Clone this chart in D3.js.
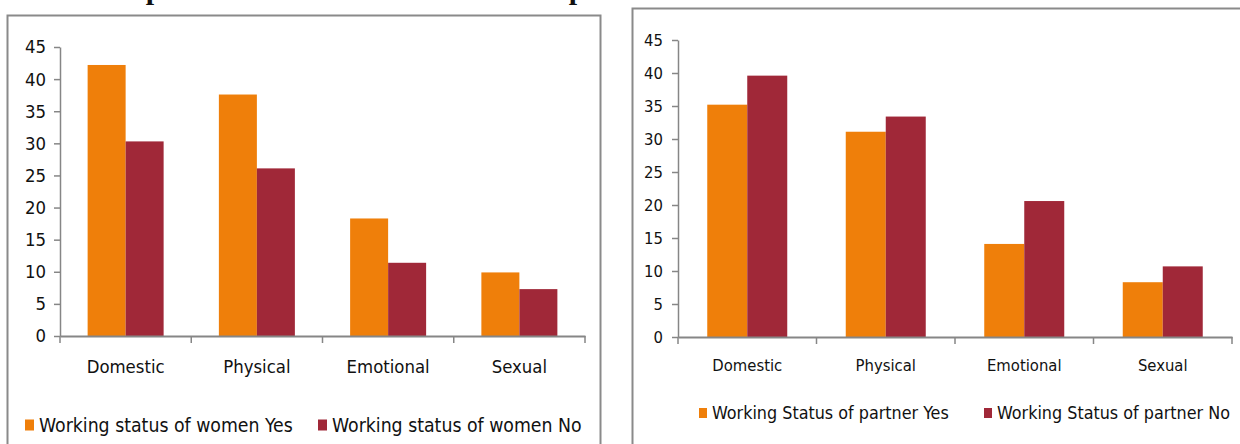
<!DOCTYPE html>
<html><head><meta charset="utf-8">
<script src="https://cdn.jsdelivr.net/npm/d3@7"></script>
<style>
html,body{margin:0;padding:0;background:#fff;}
svg{display:block;}
text{font-family:"DejaVu Sans Condensed","DejaVu Sans",sans-serif;fill:#111;}
</style></head>
<body>
<svg id="c" width="1240" height="444"></svg>
<script>
const categories = ["Domestic", "Physical", "Emotional", "Sexual"];
const womenYes = [42.2, 37.6, 18.3, 9.9];
const womenNo = [30.3, 26.1, 11.4, 7.3];
const partnerYes = [35.2, 31.1, 14.1, 8.3];
const partnerNo = [39.6, 33.4, 20.6, 10.7];
const yTicks = [0, 5, 10, 15, 20, 25, 30, 35, 40, 45];
const seriesLeft = ["Working status of women Yes", "Working status of women No"];
const seriesRight = ["Working Status of partner Yes", "Working Status of partner No"];
const colors = ["#EF7F0A", "#A02838"];

const svg = d3.select("#c");
const FONT = "'DejaVu Sans Condensed','DejaVu Sans',sans-serif";

// cut-off title descenders at top (title lies above the visible area, as in the reference)
svg.append("text").attr("x", 154).attr("y", -1).attr("text-anchor", "middle")
  .style("font-family", "'Liberation Serif',serif").style("font-weight", "bold").style("font-size", "30px").text("p");
svg.append("text").attr("x", 577).attr("y", -1).attr("text-anchor", "middle")
  .style("font-family", "'Liberation Serif',serif").style("font-weight", "bold").style("font-size", "30px").text("p");

// outer boxes
svg.append("rect").attr("x", 7.5).attr("y", 15.5).attr("width", 593).attr("height", 440)
  .attr("fill", "none").attr("stroke", "#8a8a8a").attr("stroke-width", 2);
svg.append("rect").attr("x", 632.5).attr("y", 8.5).attr("width", 620).attr("height", 450)
  .attr("fill", "none").attr("stroke", "#8a8a8a").attr("stroke-width", 2);

function drawChart(cfg) {
  const g = svg.append("g");
  const y = d3.scaleLinear().domain([0, 45]).range([cfg.y0, cfg.y45]);
  const x = d3.scaleBand().domain(categories).range([cfg.xl, cfg.xr]).padding(0);
  const inner = d3.scaleBand().domain([0, 1]).range([0, 2 * cfg.bw]).padding(0);
  const off = (x.bandwidth() - 2 * cfg.bw) / 2;

  [cfg.a, cfg.b].forEach((vals, si) => {
    g.append("g").selectAll("rect").data(vals).join("rect")
      .attr("x", (d, i) => x(categories[i]) + off + inner(si))
      .attr("y", d => y(d))
      .attr("width", inner.bandwidth())
      .attr("height", d => y(0) - y(d))
      .attr("fill", colors[si]);
  });

  // y axis
  const ya = g.append("g").attr("transform", `translate(${cfg.xl},0)`)
    .call(d3.axisLeft(y).tickValues(yTicks).tickSize(6).tickPadding(cfg.tp).tickSizeOuter(0));
  ya.select(".domain").attr("stroke", "#868686").attr("stroke-width", 1.5);
  ya.selectAll(".tick line").attr("stroke", "#868686").attr("stroke-width", 1.5);
  ya.selectAll(".tick text").style("font-size", cfg.fs + "px").attr("fill", "#111")
    .style("font-family", FONT);

  // x axis
  const xa = g.append("g").attr("transform", `translate(0,${cfg.y0})`)
    .call(d3.axisBottom(x).tickSize(0).tickPadding(cfg.xp));
  xa.select(".domain").attr("stroke", "#868686").attr("stroke-width", 2);
  xa.selectAll(".tick text").style("font-size", cfg.fs + "px").attr("fill", "#111")
    .style("font-family", FONT);
  const bounds = categories.map(c => x(c)).concat([cfg.xr]);
  g.append("g").selectAll("line").data(bounds).join("line")
    .attr("x1", d => d).attr("x2", d => d)
    .attr("y1", cfg.y0).attr("y2", cfg.y0 + 7)
    .attr("stroke", "#868686").attr("stroke-width", 1.5);

  // legend
  const lg = g.append("g");
  cfg.names.forEach((n, i) => {
    lg.append("rect").attr("x", cfg.lx[i]).attr("y", cfg.ly - cfg.sq / 2 - 1)
      .attr("width", cfg.sq).attr("height", cfg.sq + 2).attr("fill", colors[i]);
    lg.append("text").attr("x", cfg.lx[i] + cfg.sq + 5).attr("y", cfg.ly)
      .attr("dy", "0.35em").style("font-size", cfg.lfs + "px").style("font-family", FONT).text(n);
  });
}

drawChart({a: womenYes, b: womenNo, xl: 60, xr: 585, y0: 336, y45: 47, bw: 38, tp: 8, xp: 24,
  fs: 18.4, names: seriesLeft, lx: [25, 318], ly: 425, sq: 9, lfs: 19.3});
drawChart({a: partnerYes, b: partnerNo, xl: 678, xr: 1232, y0: 337, y45: 40, bw: 40, tp: 9, xp: 22,
  fs: 16.5, names: seriesRight, lx: [699, 984], ly: 413, sq: 8, lfs: 17.8});
</script>
</body></html>
